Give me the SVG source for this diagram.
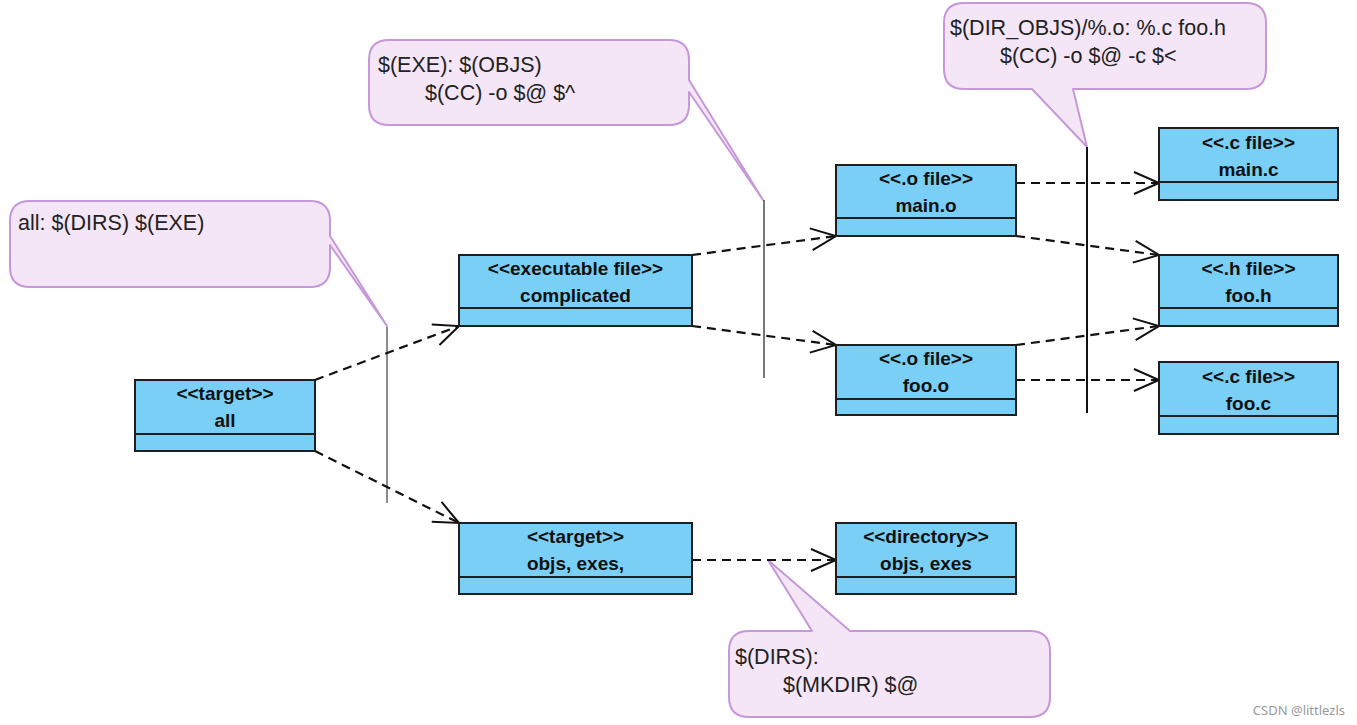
<svg xmlns="http://www.w3.org/2000/svg" width="1357" height="725" viewBox="0 0 1357 725">
<defs>
<style>
.box{fill:#79CFF5;stroke:#1e1e1e;stroke-width:2}
.div{stroke:#1e1e1e;stroke-width:2}
.nt{font-family:"Liberation Sans",Arial,sans-serif;font-weight:bold;font-size:19px;fill:#111;text-anchor:middle}
.note{fill:#F4E6F7;stroke:#C698D9;stroke-width:2;stroke-linejoin:round}
.tt{font-family:"Liberation Sans",Arial,sans-serif;font-size:21.5px;fill:#222}
.dep{fill:none;stroke:#111;stroke-width:2.2;stroke-dasharray:9 6;marker-end:url(#open)}
</style>
<marker id="open" markerUnits="userSpaceOnUse" markerWidth="32" markerHeight="30" viewBox="-28 -15 32 30" refX="0" refY="0" orient="auto">
<path d="M-25,-11 L0,0 L-25,11" fill="none" stroke="#111" stroke-width="2" stroke-dasharray="none"/>
</marker>
</defs>
<rect width="1357" height="725" fill="#fff"/>

<g id="notes">
<g id="note-all">
<path class="note" d="M30,201 H310 Q330,201 330,221 V236 L387,326 L330,245 V267 Q330,287 310,287 H30 Q10,287 10,267 V221 Q10,201 30,201 Z"/>
<text class="tt" x="18" y="230">all: $(DIRS) $(EXE)</text>
</g>
<g id="note-exe">
<path class="note" d="M389,40 H669 Q689,40 689,60 V80 L763,200 L689,92 V105 Q689,125 669,125 H389 Q369,125 369,105 V60 Q369,40 389,40 Z"/>
<text class="tt" x="378" y="72">$(EXE): $(OBJS)</text>
<text class="tt" x="425" y="100">$(CC) -o $@ $^</text>
</g>
<g id="note-objs">
<path class="note" d="M964,3 H1246 Q1266,3 1266,23 V69 Q1266,89 1246,89 H1073 L1087,147 L1032,89 H964 Q944,89 944,69 V23 Q944,3 964,3 Z"/>
<text class="tt" x="950" y="35">$(DIR_OBJS)/%.o: %.c foo.h</text>
<text class="tt" x="1000" y="63">$(CC) -o $@ -c $&lt;</text>
</g>
<g id="note-dirs">
<path class="note" d="M749,631 H812 L768,560 L850,631 H1030 Q1050,631 1050,651 V697 Q1050,717 1030,717 H749 Q729,717 729,697 V651 Q729,631 749,631 Z"/>
<text class="tt" x="735" y="664">$(DIRS):</text>
<text class="tt" x="783" y="692">$(MKDIR) $@</text>
</g>
</g>

<g id="connectors">
<line x1="387" y1="327" x2="387" y2="503" stroke="#8c8c8c" stroke-width="2"/>
<line x1="764" y1="200" x2="764" y2="378" stroke="#555" stroke-width="1.6"/>
<line x1="1087" y1="147" x2="1087" y2="413" stroke="#111" stroke-width="2"/>
<path class="dep" d="M315,380 L459,326"/>
<path class="dep" d="M315,451 L459,523"/>
<path class="dep" d="M692,255 L836,236"/>
<path class="dep" d="M692,326 L836,345"/>
<path class="dep" d="M692,560 L836,560"/>
<path class="dep" d="M1016,183 L1159,183"/>
<path class="dep" d="M1016,236 L1159,255"/>
<path class="dep" d="M1016,345 L1159,326"/>
<path class="dep" d="M1016,380 L1159,380"/>
</g>

<g id="node-all">
<rect class="box" x="135" y="380" width="180" height="71"/>
<line class="div" x1="135" y1="434" x2="315" y2="434"/>
<text class="nt" x="225" y="400">&lt;&lt;target&gt;&gt;</text>
<text class="nt" x="225" y="427">all</text>
</g>
<g id="node-complicated">
<rect class="box" x="459" y="255" width="233" height="71"/>
<line class="div" x1="459" y1="308" x2="692" y2="308"/>
<text class="nt" x="575.5" y="275">&lt;&lt;executable file&gt;&gt;</text>
<text class="nt" x="575.5" y="302">complicated</text>
</g>
<g id="node-objs-exes-target">
<rect class="box" x="459" y="523" width="233" height="71"/>
<line class="div" x1="459" y1="577" x2="692" y2="577"/>
<text class="nt" x="575.5" y="543">&lt;&lt;target&gt;&gt;</text>
<text class="nt" x="575.5" y="570">objs, exes,</text>
</g>
<g id="node-main-o">
<rect class="box" x="836" y="165" width="180" height="71"/>
<line class="div" x1="836" y1="218" x2="1016" y2="218"/>
<text class="nt" x="926" y="185">&lt;&lt;.o file&gt;&gt;</text>
<text class="nt" x="926" y="212">main.o</text>
</g>
<g id="node-foo-o">
<rect class="box" x="836" y="345" width="180" height="70"/>
<line class="div" x1="836" y1="399" x2="1016" y2="399"/>
<text class="nt" x="926" y="365">&lt;&lt;.o file&gt;&gt;</text>
<text class="nt" x="926" y="392">foo.o</text>
</g>
<g id="node-directory">
<rect class="box" x="836" y="523" width="180" height="71"/>
<line class="div" x1="836" y1="577" x2="1016" y2="577"/>
<text class="nt" x="926" y="543">&lt;&lt;directory&gt;&gt;</text>
<text class="nt" x="926" y="570">objs, exes</text>
</g>
<g id="node-main-c">
<rect class="box" x="1159" y="128" width="179" height="72"/>
<line class="div" x1="1159" y1="182" x2="1338" y2="182"/>
<text class="nt" x="1248.5" y="149">&lt;&lt;.c file&gt;&gt;</text>
<text class="nt" x="1248.5" y="176">main.c</text>
</g>
<g id="node-foo-h">
<rect class="box" x="1159" y="255" width="179" height="71"/>
<line class="div" x1="1159" y1="308" x2="1338" y2="308"/>
<text class="nt" x="1248.5" y="275">&lt;&lt;.h file&gt;&gt;</text>
<text class="nt" x="1248.5" y="302">foo.h</text>
</g>
<g id="node-foo-c">
<rect class="box" x="1159" y="362" width="179" height="72"/>
<line class="div" x1="1159" y1="416" x2="1338" y2="416"/>
<text class="nt" x="1248.5" y="383">&lt;&lt;.c file&gt;&gt;</text>
<text class="nt" x="1248.5" y="410">foo.c</text>
</g>

<text x="1345" y="715" font-family="'Noto Sans','Liberation Sans',sans-serif" font-size="13" fill="#9a9a9a" text-anchor="end">CSDN @littlezls</text>
</svg>
